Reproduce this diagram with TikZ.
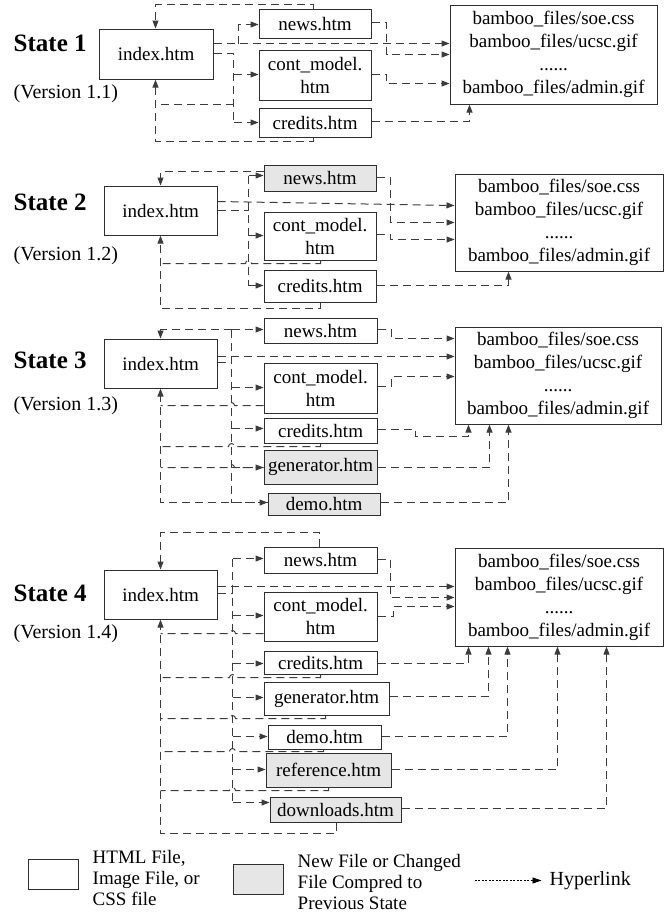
\documentclass[tikz,border=0pt]{standalone}
\usepackage{fontspec}
\setmainfont{Liberation Serif}
\usetikzlibrary{arrows.meta}
\definecolor{boxline}{HTML}{2E2E2E}
\definecolor{lnkline}{HTML}{3C3C3C}
\definecolor{newfill}{HTML}{E6E6E6}
\newcommand\myfnt{\fontsize{19}{23}\selectfont}
\newcommand\fb[7]{\node[#1,minimum width={(#5-#3)*1pt},minimum height={(#6-#4)*1pt},anchor=north west] (#2) at (#3,#4) {#7};}
\tikzset{
  filebox/.style={draw=boxline, line width=1.1pt, fill=white, inner sep=0pt, font=\myfnt, align=center},
  newbox/.style={filebox, fill=newfill},
  lnk/.style={draw=lnkline, line width=1pt, dash pattern=on 8pt off 5pt},
  arr/.style={lnk, -{Triangle[length=8pt,width=6pt]}},
  hyper/.style={draw=black, line width=0.8pt, dash pattern=on 2pt off 1.5pt, -{Triangle[length=9pt,width=6pt]}},
  statelbl/.style={font=\fontsize{25}{28}\selectfont\bfseries, inner sep=0pt, anchor=west},
  verlbl/.style={font=\fontsize{20}{24}\selectfont, inner sep=0pt, anchor=west},
  legtxt/.style={font=\fontsize{19}{21}\selectfont, inner sep=0pt, align=left, anchor=west}
}
\newcommand\bamboo{bamboo\_files/soe.css\\bamboo\_files/ucsc.gif\\......\\bamboo\_files/admin.gif}
\begin{document}
\begin{tikzpicture}[x=1pt,y=-1pt]
\useasboundingbox (0,0) rectangle (666,913);
\begin{scope}[shift={(0.5,0.5)}]
% ---------------- State 1 ----------------
\node[statelbl] (s1) at (13,43) {State 1};
\node[verlbl] (v1) at (13,93) {(Version 1.1)};
\fb{filebox}{i1}{98}{28}{212}{78}{index.htm}
\fb{filebox}{n1}{258}{8}{370}{37}{news.htm}
\fb{filebox}{c1}{258}{49}{370}{99}{cont\_model.\\htm}
\fb{filebox}{r1}{258}{107}{370}{136}{credits.htm}
\fb{filebox}{b1}{449}{4}{656}{103}{\bamboo}
\coordinate (j1) at (233,104);
\draw[arr] (n1.north -| 313,0) -- (313,4) -- (155,4) -- (155,0 |- i1.north);
\draw[arr] (r1.south -| 313,0) -- (313,141) -- (155,141) -- (155,0 |- i1.south);
\draw[lnk] (j1) -- (155,104);
\draw[arr] (i1.east |- 0,43) -- (b1.west |- 0,43);
\draw[arr] (238,43) -- (238,24) -- (n1.west |- 0,24);
\draw[lnk] (i1.east |- 0,53) -- (233,53) -- (233,122);
\draw[arr] (233,74) -- (c1.west |- 0,74);
\draw[arr] (233,122) -- (r1.west |- 0,122);
\draw[arr] (n1.east |- 0,22) -- (386,22) -- (386,54) -- (b1.west |- 0,54);
\draw[arr] (c1.east |- 0,74) -- (386,74) -- (386,83) -- (b1.west |- 0,83);
\draw[arr] (r1.east |- 0,121) -- (469,121) -- (469,0 |- b1.south);

% ---------------- State 2 ----------------
\node[statelbl] (s2) at (13,202) {State 2};
\node[verlbl] (v2) at (13,255) {(Version 1.2)};
\fb{filebox}{i2}{103}{185}{216}{234}{index.htm}
\fb{newbox}{n2}{263}{164}{375}{190}{news.htm}
\fb{filebox}{c2}{263}{211}{375}{259}{cont\_model.\\htm}
\fb{filebox}{r2}{263}{269}{375}{301}{credits.htm}
\fb{filebox}{b2}{454}{173}{662}{270}{\bamboo}
\draw[arr] (n2.west |- 0,171) -- (160,171) -- (160,0 |- i2.north);
\draw[arr] (i2.east |- 0,201) -- (b2.west |- 0,205);
\draw[lnk] (i2.east |- 0,210) -- (248,210);
\draw[lnk] (248,175) -- (248,285);
\draw[arr] (248,175) -- (n2.west |- 0,175);
\draw[arr] (248,235) -- (c2.west |- 0,235);
\draw[arr] (248,285) -- (r2.west |- 0,285);
\draw[lnk] (c2.south -| 320,0) -- (320,263) -- (251,263) arc (0:180:3pt) -- (160,263);
\draw[arr] (r2.south -| 320,0) -- (320,308) -- (160,308) -- (160,0 |- i2.south);
\draw[arr] (n2.east |- 0,177) -- (390,177) -- (390,222) -- (b2.west |- 0,222);
\draw[arr] (c2.east |- 0,234) -- (390,234) -- (390,239) -- (b2.west |- 0,239);
\draw[arr] (r2.east |- 0,285) -- (508,285) -- (508,0 |- b2.south);

% ---------------- State 3 ----------------
\node[statelbl] (s3) at (13,360) {State 3};
\node[verlbl] (v3) at (13,405) {(Version 1.3)};
\fb{filebox}{i3}{103}{338}{216}{387}{index.htm}
\fb{filebox}{n3}{263}{317}{376}{342}{news.htm}
\fb{filebox}{c3}{263}{362}{376}{412}{cont\_model.\\htm}
\fb{filebox}{r3}{263}{417}{376}{442}{credits.htm}
\fb{newbox}{g3}{263}{449}{376}{483}{generator.htm}
\fb{newbox}{d3}{267}{492}{379}{514}{demo.htm}
\fb{filebox}{b3}{454}{326}{660}{423}{\bamboo}
\draw[arr] (231,329) -- (160,329) -- (160,0 |- i3.north);
\draw[lnk] (231,329) -- (231,502);
\draw[lnk] (i3.east |- 0,362) -- (231,362);
\draw[arr] (i3.east |- 0,356) -- (b3.west |- 0,356);
\draw[lnk] (c3.west |- 0,405) -- (234,405) arc (0:180:3pt) -- (160,405);
\draw[lnk] (r3.south -| 320,0) -- (320,446) -- (234,446) arc (0:180:3pt) -- (160,446);
\draw[lnk] (g3.west |- 0,467) -- (234,467) arc (0:180:3pt) -- (160,467);
\draw[arr] (d3.west |- 0,502) -- (160,502) -- (160,0 |- i3.south);
\draw[arr] (231,329) -- (n3.west |- 0,329);
\draw[arr] (231,387) -- (c3.west |- 0,387);
\draw[arr] (231,428) -- (r3.west |- 0,428);
\draw[arr] (231,467) -- (g3.west |- 0,467);
\draw[arr] (231,502) -- (d3.west |- 0,502);
\draw[arr] (n3.east |- 0,329) -- (391,329) -- (391,338) -- (b3.west |- 0,338);
\draw[arr] (c3.east |- 0,386) -- (391,386) -- (391,376) -- (b3.west |- 0,376);
\draw[arr] (r3.east |- 0,429) -- (415,429) -- (415,436) -- (468,436) -- (468,0 |- b3.south);
\draw[arr] (g3.east |- 0,467) -- (489,467) -- (489,0 |- b3.south);
\draw[arr] (d3.east |- 0,502) -- (508,502) -- (508,0 |- b3.south);

% ---------------- State 4 ----------------
\node[statelbl] (s4) at (13,593) {State 4};
\node[verlbl] (v4) at (13,633) {(Version 1.4)};
\fb{filebox}{i4}{103}{569}{216}{618}{index.htm}
\fb{filebox}{n4}{263}{546}{376}{572}{news.htm}
\fb{filebox}{c4}{263}{591}{376}{640}{cont\_model.\\htm}
\fb{filebox}{r4}{263}{650}{376}{673}{credits.htm}
\fb{filebox}{g4}{263}{681}{388}{714}{generator.htm}
\fb{filebox}{d4}{267}{724}{380}{748}{demo.htm}
\fb{newbox}{f4}{265}{752}{390}{786}{reference.htm}
\fb{newbox}{w4}{269}{796}{400}{821}{downloads.htm}
\fb{filebox}{b4}{454}{547}{662}{645}{\bamboo}
\draw[arr] (n4.north -| 319,0) -- (319,532) -- (160,532) -- (160,0 |- i4.north);
\draw[arr] (i4.east |- 0,586) -- (b4.west |- 0,586);
\draw[lnk] (i4.east |- 0,593) -- (232,593);
\draw[lnk] (232,558) -- (232,802);
\draw[lnk] (c4.west |- 0,633) -- (235,633) arc (0:180:3pt) -- (160,633);
\draw[lnk] (r4.south -| 320,0) -- (320,677) -- (235,677) arc (0:180:3pt) -- (160,677);
\draw[lnk] (g4.south -| 325,0) -- (325,718) -- (235,718) arc (0:180:3pt) -- (160,718);
\draw[lnk] (d4.south -| 323,0) -- (323,751) -- (235,751) arc (0:180:3pt) -- (160,751);
\draw[lnk] (f4.south -| 328,0) -- (328,790) -- (235,790) arc (0:180:3pt) -- (160,790);
\draw[arr] (w4.south -| 336,0) -- (336,833) -- (160,833) -- (160,0 |- i4.south);
\draw[arr] (232,558) -- (n4.west |- 0,558);
\draw[arr] (232,615) -- (c4.west |- 0,615);
\draw[arr] (232,663) -- (r4.west |- 0,663);
\draw[arr] (232,697) -- (g4.west |- 0,697);
\draw[arr] (232,736) -- (d4.west |- 0,736);
\draw[arr] (232,769) -- (f4.west |- 0,769);
\draw[arr] (232,802) -- (w4.west |- 0,802);
\draw[arr] (n4.east |- 0,559) -- (390,559) -- (390,597) -- (b4.west |- 0,597);
\draw[arr] (c4.east |- 0,616) -- (393,616) -- (393,606) -- (b4.west |- 0,606);
\draw[arr] (r4.east |- 0,663) -- (468,663) -- (468,0 |- b4.south);
\draw[arr] (g4.east |- 0,696) -- (488,696) -- (488,0 |- b4.south);
\draw[arr] (d4.east |- 0,736) -- (507,736) -- (507,0 |- b4.south);
\draw[arr] (f4.east |- 0,769) -- (557,769) -- (557,0 |- b4.south);
\draw[arr] (w4.east |- 0,808) -- (606,808) -- (606,0 |- b4.south);

% ---------------- Legend ----------------
\fb{filebox}{L1}{27}{858}{77}{888}{}
\node[legtxt] (L1t) at (92,877) {HTML File,\\Image File, or\\CSS file};
\fb{newbox}{L2}{232}{863}{282}{893}{}
\node[legtxt] (L2t) at (297,881) {New File or Changed\\File Compred to\\Previous State};
\coordinate (h1) at (474,880);
\coordinate (h2) at (541,880);
\draw[hyper] (h1) -- (h2);
\node[legtxt, font=\fontsize{20}{22}\selectfont] (L3t) at (549,880) {Hyperlink};
\end{scope}
\end{tikzpicture}
\end{document}
